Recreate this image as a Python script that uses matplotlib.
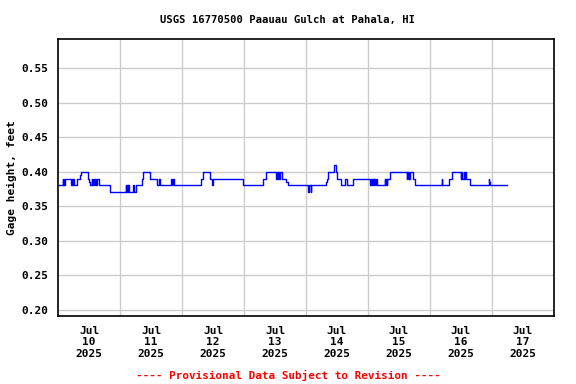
#!/usr/bin/env python3
"""
USGS gage height plot, Paauau Gulch at Pahala, HI (Jul 10-17 2025).
"""

import matplotlib
matplotlib.use("Agg")
import matplotlib.pyplot as plt

# Change points of the gage height record: hours since Jul 10 00:00, feet
hours = [
    0.0, 1.75, 2.0, 2.25, 2.5, 2.75, 5.0, 5.25, 5.5, 5.75, 6.0,
    7.25, 8.5, 9.0, 11.5, 12.0, 12.5, 13.0, 13.25, 13.5, 13.75,
    14.5, 14.75, 15.25, 15.75, 20.25,
    26.25, 26.5, 26.75, 27.0, 27.25, 27.5, 29.0, 29.5, 30.25,
    32.4, 33.0, 35.6, 38.5, 39.25, 39.5, 43.75, 44.0, 44.5, 44.75,
    55.2, 56.25, 58.8, 59.75, 60.0, 71.7,
    79.2, 80.5, 84.5, 84.75, 85.0, 85.25, 85.5, 85.75, 86.6, 88.3, 89.1,
    96.75, 97.0, 97.75, 98.0,
    103.6, 104.0, 104.6, 107.0, 107.5, 107.9, 109.5, 111.0, 111.75, 114.1,
    120.75, 121.0, 121.25, 121.5, 121.75, 122.0, 122.25, 122.5, 122.75, 123.0, 123.4,
    126.5, 126.75, 127.0, 127.25, 127.5, 128.5,
    135.0, 135.25, 135.5, 135.75, 136.0, 136.25, 137.5, 138.2,
    148.5, 148.75, 151.5, 152.6, 155.9, 156.1, 156.3, 156.5,
    157.1, 157.3, 157.7, 157.9, 159.5,
    166.75, 167.0, 167.25, 173.7,
]
gage_ft = [
    0.38, 0.39, 0.38, 0.39, 0.38, 0.39, 0.38, 0.39, 0.38, 0.39, 0.38,
    0.39, 0.395, 0.40, 0.39, 0.385, 0.38, 0.39, 0.38, 0.39, 0.38,
    0.39, 0.38, 0.39, 0.38, 0.37,
    0.38, 0.37, 0.38, 0.37, 0.38, 0.37, 0.38, 0.37, 0.38,
    0.39, 0.40, 0.39, 0.38, 0.39, 0.38, 0.39, 0.38, 0.39, 0.38,
    0.39, 0.40, 0.39, 0.38, 0.39, 0.38,
    0.39, 0.40, 0.39, 0.40, 0.39, 0.40, 0.39, 0.40, 0.39, 0.385, 0.38,
    0.37, 0.38, 0.37, 0.38,
    0.385, 0.39, 0.40, 0.41, 0.40, 0.39, 0.38, 0.39, 0.38, 0.39,
    0.38, 0.39, 0.38, 0.39, 0.38, 0.39, 0.38, 0.39, 0.38, 0.39, 0.38,
    0.39, 0.38, 0.39, 0.38, 0.39, 0.40,
    0.39, 0.40, 0.39, 0.40, 0.39, 0.40, 0.39, 0.38,
    0.39, 0.38, 0.39, 0.40, 0.39, 0.40, 0.39, 0.39,
    0.40, 0.39, 0.40, 0.39, 0.38,
    0.39, 0.385, 0.38, 0.38,
]

day_numbers = [10, 11, 12, 13, 14, 15, 16, 17]
day_labels = [f"Jul\n{d}\n2025" for d in day_numbers]
y_ticks = [0.20, 0.25, 0.30, 0.35, 0.40, 0.45, 0.50, 0.55]

font = "DejaVu Sans Mono"

fig = plt.figure(figsize=(5.76, 3.84), dpi=100)
ax = fig.add_axes([0.1007, 0.1771, 0.8611, 0.7213])

ax.plot(hours, gage_ft, color="#0000ff", linewidth=1.0, drawstyle="steps-post")

ax.set_xlim(0, 24 * len(day_numbers))
ax.set_ylim(0.191, 0.592)

# labels at noon, grid lines at midnight
ax.set_xticks([24 * i + 12 for i in range(len(day_numbers))])
ax.set_xticklabels(day_labels)
ax.set_xticks([24 * i for i in range(1, len(day_numbers))], minor=True)
ax.set_yticks(y_ticks)
ax.set_yticklabels([f"{v:.2f}" for v in y_ticks])

ax.grid(False)
ax.grid(True, which="minor", axis="x", color="#cccccc", linewidth=1.0)
ax.grid(True, which="major", axis="y", color="#cccccc", linewidth=1.0)
ax.set_axisbelow(True)

ax.tick_params(axis="both", which="both", length=0)
ax.tick_params(axis="x", pad=7)
ax.tick_params(axis="y", pad=7)
for lab in ax.get_xticklabels() + ax.get_yticklabels():
    lab.set_fontfamily(font)
    lab.set_fontweight("bold")
    lab.set_fontsize(8)

for sp in ax.spines.values():
    sp.set_linewidth(1.2)
    sp.set_color("black")

ax.set_ylabel("Gage height, feet", fontfamily=font, fontweight="bold",
              fontsize=8, labelpad=3)

fig.text(0.5, 1 - 20 / 384, "USGS 16770500 Paauau Gulch at Pahala, HI",
         ha="center", va="center", fontfamily=font, fontweight="bold",
         fontsize=7.6)
fig.text(0.5, 1 - 375 / 384, "---- Provisional Data Subject to Revision ----",
         ha="center", va="center", fontfamily=font, fontweight="bold",
         fontsize=7.9, color="red")

fig.savefig("out.png", dpi=100)
